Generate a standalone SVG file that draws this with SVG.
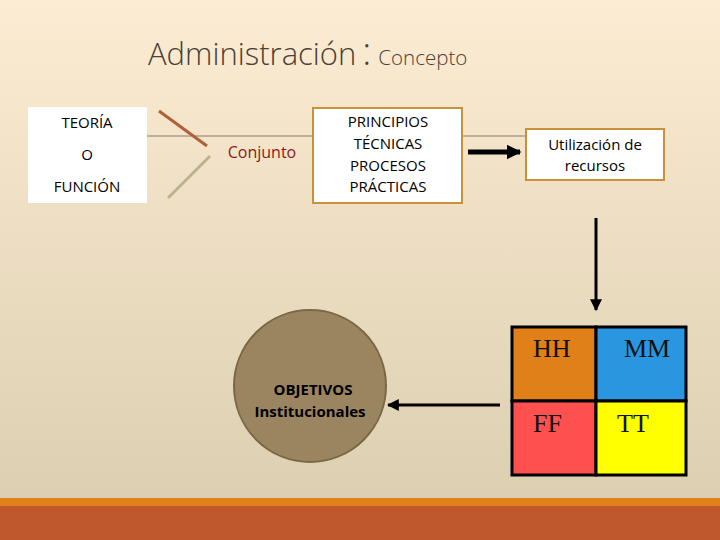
<svg xmlns="http://www.w3.org/2000/svg" width="720" height="540" viewBox="0 0 720 540">
<defs>
<linearGradient id="bg" x1="0" y1="0" x2="0" y2="1">
<stop offset="0" stop-color="#fcecd3"/>
<stop offset="1" stop-color="#dacdae"/>
</linearGradient>
<marker id="ah" viewBox="0 0 10 10" refX="9" refY="5" markerWidth="3" markerHeight="3" orient="auto" markerUnits="strokeWidth">
<path d="M0,0 L10,5 L0,10 z" fill="#000"/>
</marker>
<marker id="ah2" viewBox="0 0 10 10" refX="9" refY="5" markerWidth="4" markerHeight="4" orient="auto" markerUnits="strokeWidth">
<path d="M0,0 L10,5 L0,10 z" fill="#000"/>
</marker>
</defs>
<style>
.t{font-family:"Open Sans","Noto Sans",sans-serif;font-size:15px;fill:#000;text-anchor:middle}
.s{font-family:"Liberation Serif",serif;font-size:26px;fill:#111}
.box{fill:#fff;stroke:#c8913a;stroke-width:2}
.cell{stroke:#000;stroke-width:3}
</style>
<rect width="720" height="540" fill="url(#bg)"/>
<rect x="0" y="498" width="720" height="8" fill="#e0821c"/>
<rect x="0" y="506" width="720" height="34" fill="#bf582c"/>
<text x="148" y="65" font-family="'Open Sans','Noto Sans',sans-serif" font-size="31" fill="#4a4036" font-weight="300">Administración<tspan dx="6" font-size="38">:</tspan><tspan font-size="20.5" dx="7">Concepto</tspan></text>
<g id="connectors">
<line x1="147" y1="136" x2="316" y2="136" stroke="#8a7f70" stroke-width="1"/>
<line x1="463" y1="136" x2="526" y2="136" stroke="#8a7f70" stroke-width="1"/>
<line x1="159" y1="111" x2="207" y2="146" stroke="#b0603a" stroke-width="3"/>
<line x1="168" y1="198" x2="210" y2="156" stroke="#bcb48c" stroke-width="3"/>
<line x1="468" y1="152" x2="520" y2="152" stroke="#000" stroke-width="5" marker-end="url(#ah)"/>
<line x1="596" y1="218" x2="596" y2="310" stroke="#000" stroke-width="3" marker-end="url(#ah2)"/>
<line x1="500" y1="405" x2="388" y2="405" stroke="#000" stroke-width="3" marker-end="url(#ah2)"/>
</g>
<g id="teoria">
<rect x="28" y="107" width="119" height="96" fill="#fff"/>
<text class="t" x="87" y="128">TEORÍA</text>
<text class="t" x="87" y="160">O</text>
<text class="t" x="87" y="192">FUNCIÓN</text>
</g>
<g id="conjunto">
<text class="t" x="262" y="158" style="fill:#8b1a1a;font-size:16px">Conjunto</text>
</g>
<g id="principios">
<rect class="box" x="313" y="108" width="149" height="95"/>
<text class="t" x="388" y="127">PRINCIPIOS</text>
<text class="t" x="388" y="149">TÉCNICAS</text>
<text class="t" x="388" y="171">PROCESOS</text>
<text class="t" x="388" y="192">PRÁCTICAS</text>
</g>
<g id="utilizacion">
<rect class="box" x="526" y="129" width="138" height="51"/>
<text class="t" x="595" y="150">Utilización de</text>
<text class="t" x="595" y="171">recursos</text>
</g>
<g id="recursos">
<rect class="cell" x="512" y="327" width="84" height="74" fill="#e08018"/>
<rect class="cell" x="596" y="327" width="90" height="74" fill="#2a96e0"/>
<rect class="cell" x="512" y="401" width="84" height="74" fill="#ff5050"/>
<rect class="cell" x="596" y="401" width="90" height="74" fill="#ffff00"/>
<text class="s" x="533" y="357">HH</text>
<text class="s" x="624" y="357">MM</text>
<text class="s" x="533" y="432">FF</text>
<text class="s" x="617" y="432">TT</text>
</g>
<g id="objetivos">
<circle cx="310" cy="386" r="76" fill="#9a8560" stroke="#7a6845" stroke-width="2"/>
<text class="t" x="313" y="395" style="font-weight:bold">OBJETIVOS</text>
<text class="t" x="310" y="417" style="font-weight:bold">Institucionales</text>
</g>
</svg>
